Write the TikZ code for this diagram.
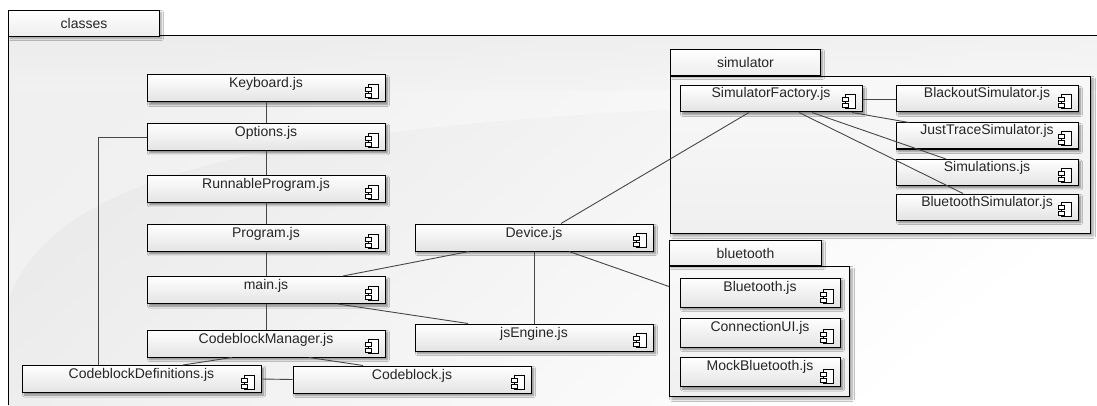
\documentclass[tikz,border=0pt]{standalone}
\usepackage{fontspec}
\setmainfont{Liberation Sans}
\usetikzlibrary{shadows.blur,calc}
\newcommand\ico[1]{%
  \begin{scope}[shift={(#1.south east)}]
    \draw[line width=0.8pt,fill=white] (-17,4) rectangle (-7,18);
    \draw[line width=0.8pt,fill=white] (-20,11) rectangle (-14,15);
    \draw[line width=0.8pt,fill=white] (-20,5) rectangle (-14,9);
  \end{scope}}
\tikzset{
  boxbase/.style={draw=black, line width=1pt, top color=white, bottom color=gray!22,
    inner xsep=0pt, inner ysep=0pt, font=\fontsize{14}{16}\selectfont, text=black!85,
    blur shadow={shadow xshift=2.5pt, shadow yshift=-2.5pt, shadow blur radius=2pt,
      shadow blur steps=5, shadow opacity=45}},
  comp/.style={boxbase, text height=13pt, text depth=14pt},
  compS/.style={boxbase, text height=12pt, text depth=14pt},
  compB/.style={boxbase, text height=13pt, text depth=16pt},
  tabbox/.style={draw=black, line width=1pt, top color=white, bottom color=gray!14,
    font=\fontsize{14}{16}\selectfont, text=black!85, inner sep=0pt,
    blur shadow={shadow xshift=2pt, shadow yshift=-2pt, shadow blur radius=2pt,
      shadow blur steps=5, shadow opacity=35}},
  pkgframe/.style={draw=black, line width=1pt, top color=gray!5, bottom color=gray!12, inner sep=0pt,
    blur shadow={shadow xshift=2.5pt, shadow yshift=-2.5pt, shadow blur radius=2.5pt,
      shadow blur steps=5, shadow opacity=40}},
  conn/.style={draw=black!72, line width=0.9pt}
}
\begin{document}
\begin{tikzpicture}[x=1pt,y=1pt]
\useasboundingbox (0,0) rectangle (1097,405);
\fill[white] (0,0) rectangle (1097,405);
% outer package "classes"
\shade[top color=gray!17, bottom color=white, shading angle=40] (8,0) rectangle (1097,369);
\fill[white, opacity=0.35] (8,105) .. controls (60,245) and (300,295) .. (1097,310) -- (1097,369) -- (8,369) -- cycle;
\shade[top color=gray!17, bottom color=gray!10, opacity=0.5] (8,315) rectangle (1097,369);
\draw[line width=1pt] (8,0) -- (8,369) -- (1097,369);
\node[tabbox, minimum width=151, minimum height=26, anchor=north west] (ctab) at (8,395) {classes};

% simulator package
\node[pkgframe, minimum width=420, minimum height=157, anchor=north west] (simf) at (670,329) {};
\node[tabbox, minimum width=150, minimum height=26, anchor=south west] (simtab) at (simf.north west) {simulator};

% bluetooth package
\node[pkgframe, minimum width=180, minimum height=130, anchor=north west] (btf) at (669,139) {};
\node[tabbox, minimum width=152, minimum height=25, anchor=south west] (bttab) at (btf.north west) {bluetooth};

% components, left column
\node[comp, minimum width=238] (kb)     at (266,316.5) {Keyboard.js};
\node[comp, minimum width=238] (opt)    at (266,268)   {Options.js};
\node[comp, minimum width=238] (rp)     at (266,216)   {RunnableProgram.js};
\node[comp, minimum width=238] (prog)   at (266,167)   {Program.js};
\node[comp, minimum width=238] (mainjs) at (266,115)   {main.js};
\node[comp, minimum width=238] (cbm)    at (266,61.5)  {CodeblockManager.js};
\node[comp, minimum width=239] (cbd)    at (141.5,26)  {CodeblockDefinitions.js};
\node[comp, minimum width=238] (cb)     at (412,25.5)  {Codeblock.js};
\node[comp, minimum width=238] (dev)    at (534,167.5) {Device.js};
\node[comp, minimum width=238] (jse)    at (534,67.5)  {jsEngine.js};

% simulator components
\node[compS, minimum width=182] (sf)   at (771,306)   {SimulatorFactory.js};
\node[compS, minimum width=182] (bo)   at (987,306)   {BlackoutSimulator.js};
\node[compS, minimum width=182] (jt)   at (987,269)   {JustTraceSimulator.js};
\node[compS, minimum width=182] (sims) at (987,232.5) {Simulations.js};
\node[compS, minimum width=182] (bs)   at (987,198)   {BluetoothSimulator.js};

% bluetooth components
\node[compB, minimum width=160] (bt)  at (760,112.5) {Bluetooth.js};
\node[compB, minimum width=160] (cui) at (760,72.5)  {ConnectionUI.js};
\node[compB, minimum width=160] (mb)  at (760,33)    {MockBluetooth.js};

\foreach \n in {kb,opt,rp,prog,mainjs,cbm,cbd,cb,dev,jse,sf,bo,jt,sims,bs,bt,cui,mb}{\ico{\n}}

% connectors
\draw[conn] (kb.south) -- (opt.north);
\draw[conn] (opt.south) -- (rp.north);
\draw[conn] (rp.south) -- (prog.north);
\draw[conn] (prog.south) -- (mainjs.north);
\draw[conn] (mainjs.south) -- (cbm.north);
\draw[conn] (opt.west) -| ([xshift=-43.5pt]cbd.north);
\draw[conn] ([xshift=-34pt]cbm.south) -- ([xshift=41.5pt]cbd.north);
\draw[conn] ([xshift=43pt]cbm.south) -- ([xshift=-49pt]cb.north);
\draw[conn] (cbd.east) -- (cb.west);
\draw[conn] ([xshift=77pt]mainjs.north) -- ([xshift=-65pt]dev.south);
\draw[conn] ([xshift=72pt]mainjs.south) -- ([xshift=-66pt]jse.north);
\draw[conn] (dev.south) -- (jse.north);
\draw[conn] ([xshift=35pt]dev.south) -- ([yshift=45pt]btf.west);
\draw[conn] ([xshift=27pt]dev.north) -- ([xshift=-22pt]sf.south);
\draw[conn] (sf.east) -- (bo.west);
\draw[conn] ([xshift=81pt]sf.south) -- ([xshift=-78pt]jt.north);
\draw[conn] ([xshift=41pt]sf.south) -- ([xshift=-41pt]sims.north);
\draw[conn] ([xshift=28pt]sf.south) -- ([xshift=-24pt]bs.north);
\end{tikzpicture}
\end{document}
